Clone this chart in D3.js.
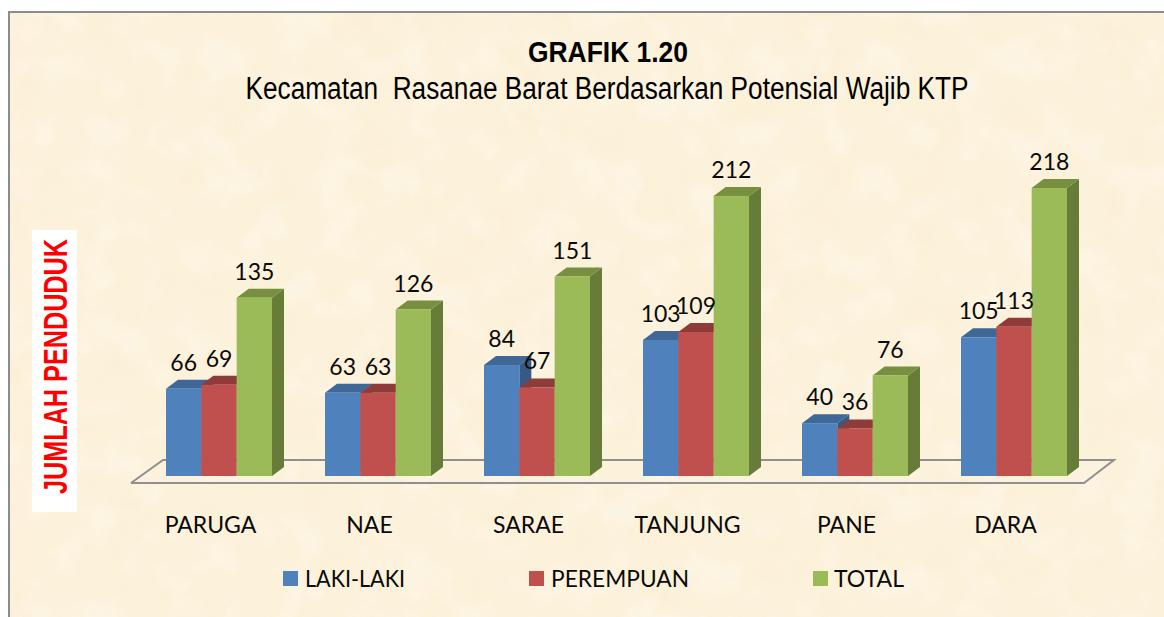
<!DOCTYPE html>
<html><head><meta charset="utf-8">
<script src="https://d3js.org/d3.v7.min.js"></script>
<style>html,body{margin:0;padding:0;background:#fff}svg{display:block}</style>
</head><body><svg id="c" width="1164" height="617"></svg>
<script>
const categories=["PARUGA","NAE","SARAE","TANJUNG","PANE","DARA"];
const seriesNames=["LAKI-LAKI","PEREMPUAN","TOTAL"];
const lakiLaki=[66,63,84,103,40,105];
const perempuan=[69,63,67,109,36,113];
const total=[135,126,151,212,76,218];
const seriesValues=[lakiLaki,perempuan,total];
const frontColors=["#4f81bd","#c0504d","#9bbb59"];
const topColors=["#3f6797","#8f3b39","#76903f"];
const sideColors=["#355a86","#873735","#667c38"];

const svg=d3.select("#c");
const defs=svg.append("defs");
function paper(id,freq,seed,mat){
  const f=defs.append("filter").attr("id",id).attr("x",0).attr("y",0).attr("width","100%").attr("height","100%");
  f.append("feTurbulence").attr("type","fractalNoise").attr("baseFrequency",freq).attr("numOctaves",4).attr("seed",seed);
  f.append("feColorMatrix").attr("type","matrix").attr("values",mat);
}
paper("paperDark",0.02,7,"0 0 0 0 0.95  0 0 0 0 0.86  0 0 0 0 0.62  3 0 0 0 -1.25");
paper("paperLight",0.025,23,"0 0 0 0 1  0 0 0 0 0.98  0 0 0 0 0.94  0 3 0 0 -1.3");

const bg={x:9,y:12,w:1155,h:605};
const bgRect=f=>svg.append("rect").attr("x",bg.x).attr("y",bg.y).attr("width",bg.w).attr("height",bg.h).attr("filter",f);
svg.append("rect").attr("x",bg.x).attr("y",bg.y).attr("width",bg.w).attr("height",bg.h).attr("fill","#fcf1da");
bgRect("url(#paperDark)").attr("opacity",0.22);
bgRect("url(#paperLight)").attr("opacity",0.3);
svg.append("path").attr("d",d3.line()([[9,617],[9,12],[1164,12]])).attr("fill","none").attr("stroke","#8c8c8c").attr("stroke-width",2);

const x0=d3.scaleBand().domain(categories).range([126.5,1080.5]);
const x1=d3.scaleBand().domain(seriesNames).range([39.5,145.5]);
const y=d3.scaleLinear().domain([0,218]).range([476,188]);
const dx=12,dy=-9;

svg.append("path").attr("d",d3.line()([[131,483],[1084,483],[1114,460],[163,460],[131,483]]))
  .attr("fill","none").attr("stroke","#8f8f8f").attr("stroke-width",2).attr("stroke-linejoin","miter");

const g=svg.append("g").selectAll("g").data(categories).join("g").attr("transform",d=>`translate(${x0(d)},0)`);
seriesNames.forEach((s,si)=>{
  const bw=x1.bandwidth();
  const b=g.append("g");
  const bx=x1(s);
  const yv=(d,i)=>y(seriesValues[si][i]);
  b.append("path").attr("fill",sideColors[si]).attr("d",(d,i)=>d3.line()([[bx+bw,yv(d,i)],[bx+bw+dx,yv(d,i)+dy],[bx+bw+dx,y(0)+dy],[bx+bw,y(0)]]));
  b.append("path").attr("fill",topColors[si]).attr("d",(d,i)=>d3.line()([[bx,yv(d,i)],[bx+dx,yv(d,i)+dy],[bx+bw+dx,yv(d,i)+dy],[bx+bw,yv(d,i)]]));
  b.append("rect").attr("fill",frontColors[si]).attr("x",bx).attr("width",bw).attr("y",yv).attr("height",(d,i)=>y(0)-yv(d,i));
});
const txt=(sel)=>sel.attr("font-family","Lato, 'Open Sans', sans-serif").attr("fill","#0a0a0a").attr("font-size",23);
seriesNames.forEach((s,si)=>{
  g.append("text").call(txt).attr("text-anchor","middle")
   .attr("x",x1(s)+x1.bandwidth()/2).attr("y",(d,i)=>y(seriesValues[si][i])-18)
   .text((d,i)=>seriesValues[si][i]);
});
g.append("text").call(txt).attr("text-anchor","middle").attr("x",84).attr("y",533).text(d=>d);

const legendX=[283,529,813];
const legendTextX=[22,22,21];
const legendTextW=[100,138,70];
const lg=svg.append("g").selectAll("g").data(seriesNames).join("g").attr("transform",(d,i)=>`translate(${legendX[i]},571)`);
lg.append("rect").attr("width",15).attr("height",15).attr("fill",(d,i)=>frontColors[i]);
lg.append("text").call(txt).attr("x",(d,i)=>legendTextX[i]).attr("y",15.5)
  .attr("textLength",(d,i)=>legendTextW[i]).attr("lengthAdjust","spacingAndGlyphs").text(d=>d);

const sans="'Liberation Sans',Arial,sans-serif";
svg.append("text").attr("x",608).attr("y",62).attr("text-anchor","middle").attr("font-family",sans)
  .attr("font-weight","bold").attr("font-size",30).attr("textLength",160).attr("lengthAdjust","spacingAndGlyphs").text("GRAFIK 1.20");
svg.append("text").attr("x",607).attr("y",98.5).attr("text-anchor","middle").attr("font-family",sans)
  .attr("font-size",31).attr("textLength",723).attr("lengthAdjust","spacingAndGlyphs").style("white-space","pre").text("Kecamatan  Rasanae Barat Berdasarkan Potensial Wajib KTP");

svg.append("rect").attr("x",32).attr("y",230).attr("width",45).attr("height",282).attr("fill","#fff");
svg.append("text").attr("transform","translate(67,494) rotate(-90)").attr("font-family",sans)
  .attr("font-weight","bold").attr("font-size",33).attr("fill","#f00").attr("textLength",255).attr("lengthAdjust","spacingAndGlyphs").text("JUMLAH PENDUDUK");
</script></body></html>
